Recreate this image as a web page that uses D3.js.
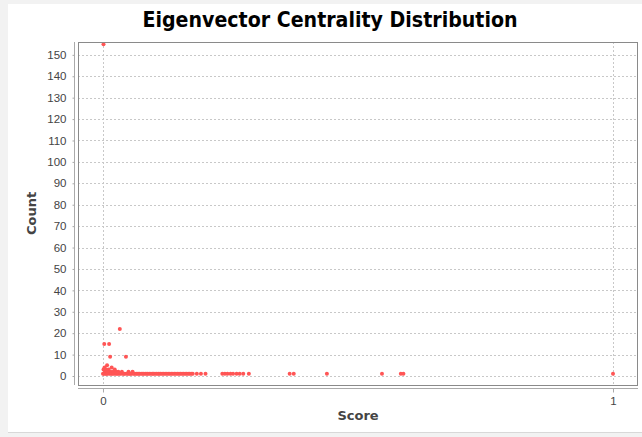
<!doctype html>
<html lang="en">
<head>
<meta charset="UTF-8" />
<title>Eigenvector Centrality Distribution</title>
<script src="https://d3js.org/d3.v7.min.js"></script>
<style>
  html,body{margin:0;padding:0;background:#f2f2f2;}
  svg{display:block;font-family:"DejaVu Sans",Verdana,sans-serif;}
</style>
</head>
<body>
<div id="chart"></div>
<script>
/* ---- data: score -> number of nodes with that score ---- */
const scores = [
  0.001, 0.0025, 0.012, 0.014, 0.045, 0.033,
  0.008, 0.003, 0.017,
  0.001, 0.006, 0.011, 0.023,
  0.004, 0.010, 0.015, 0.020, 0.026, 0.030, 0.037, 0.050, 0.058,
  0.000, 0.002, 0.005, 0.007, 0.009, 0.013, 0.016, 0.018, 0.021, 0.024,
  0.027, 0.029, 0.032, 0.035, 0.039, 0.041, 0.043, 0.047, 0.049, 0.052,
  0.054, 0.056, 0.060, 0.062, 0.065, 0.067, 0.070, 0.072, 0.075, 0.078,
  0.080, 0.083, 0.086, 0.088, 0.091, 0.094, 0.097, 0.099, 0.102, 0.105,
  0.108, 0.110, 0.113, 0.116, 0.119, 0.122, 0.125, 0.128, 0.131, 0.134,
  0.137, 0.140, 0.143, 0.146, 0.149, 0.152, 0.155, 0.158, 0.161, 0.164,
  0.167, 0.170, 0.173, 0.176,
  0.184, 0.192, 0.201,
  0.234, 0.239, 0.244, 0.250, 0.255, 0.262, 0.268, 0.275,
  0.286, 0.366, 0.374, 0.439, 0.547, 0.584, 0.589, 1.000
];
const counts = [
  155, 15, 15, 9, 9, 22,
  5, 4, 4,
  3, 3, 3, 3,
  2, 2, 2, 2, 2, 2, 2, 2, 2,
  1, 1, 1, 1, 1, 1, 1, 1, 1, 1,
  1, 1, 1, 1, 1, 1, 1, 1, 1, 1,
  1, 1, 1, 1, 1, 1, 1, 1, 1, 1,
  1, 1, 1, 1, 1, 1, 1, 1, 1, 1,
  1, 1, 1, 1, 1, 1, 1, 1, 1, 1,
  1, 1, 1, 1, 1, 1, 1, 1, 1, 1,
  1, 1, 1, 1,
  1, 1, 1,
  1, 1, 1, 1, 1, 1, 1, 1,
  1, 1, 1, 1, 1, 1, 1, 1
];
const xTicks = [0, 1];
const yTicks = [0,10,20,30,40,50,60,70,80,90,100,110,120,130,140,150];

const W = 642, H = 437;
const plot = {left:78, right:638, top:42, bottom:385};

const svg = d3.select('#chart').append('svg').attr('width',W).attr('height',H);

// white panel with light frame
svg.append('rect').attr('x',8).attr('y',4).attr('width',W-8).attr('height',428)
   .attr('fill','#fff');
svg.append('line').attr('x1',8).attr('x2',W).attr('y1',432.5).attr('y2',432.5)
   .attr('stroke','#d8d8d8');

const x = d3.scaleLinear().domain([-0.049,1.049]).range([plot.left,plot.right]);
const y = d3.scaleLinear().domain([-4.2,156]).range([plot.bottom,plot.top]);

// grid
const grid = svg.append('g').attr('stroke','#c8c8c8').attr('stroke-dasharray','2,2');
grid.selectAll('.gy').data(yTicks).join('line')
  .attr('x1',plot.left).attr('x2',plot.right)
  .attr('y1',d=>Math.round(y(d))+0.5).attr('y2',d=>Math.round(y(d))+0.5);
grid.selectAll('.gx').data(xTicks).join('line')
  .attr('y1',plot.top).attr('y2',plot.bottom)
  .attr('x1',d=>Math.round(x(d))+0.5).attr('x2',d=>Math.round(x(d))+0.5);

// points
svg.append('g').selectAll('circle').data(scores).join('circle')
  .attr('cx',d=>x(d)).attr('cy',(d,i)=>y(counts[i]))
  .attr('r',2).attr('fill','#ff5555');

// plot frame
svg.append('rect').attr('x',plot.left+0.5).attr('y',plot.top+0.5)
   .attr('width',plot.right-plot.left-1).attr('height',plot.bottom-plot.top)
   .attr('fill','none').attr('stroke','#8a8a8a');

// axes
function styleAxis(g){
  g.select('.domain').attr('stroke','#aaa');
  g.selectAll('.tick line').attr('stroke','#aaa');
  g.selectAll('.tick text').attr('fill','#444').style('font-size','11.5px');
}
const yAxis = svg.append('g').attr('transform','translate(74.5,0)')
  .call(d3.axisLeft(y).tickValues(yTicks).tickSize(2).tickSizeOuter(0).tickPadding(6));
yAxis.select('.domain').attr('d',`M0,${plot.top}V${plot.bottom}`);
styleAxis(yAxis);

const xAxis = svg.append('g').attr('transform','translate(0,388.5)')
  .call(d3.axisBottom(x).tickValues(xTicks).tickFormat(d3.format('d')).tickSize(4).tickSizeOuter(0).tickPadding(4));
xAxis.select('.domain').attr('d',`M${plot.left},0H${plot.right}`);
styleAxis(xAxis);

// title and axis labels
svg.append('text').attr('x',(plot.left+plot.right)/2 - 28).attr('y',27)
   .attr('text-anchor','middle').attr('font-weight','bold').attr('font-size','21px')
   .attr('font-family','"DejaVu Sans Condensed","DejaVu Sans",sans-serif')
   .attr('textLength',375).attr('lengthAdjust','spacingAndGlyphs')
   .attr('fill','#000').text('Eigenvector Centrality Distribution');

svg.append('text').attr('x',(plot.left+plot.right)/2).attr('y',420)
   .attr('text-anchor','middle').attr('font-weight','bold').attr('font-size','13px')
   .attr('fill','#444').text('Score');

svg.append('text').attr('transform',`translate(36,${(plot.top+plot.bottom)/2}) rotate(-90)`)
   .attr('text-anchor','middle').attr('font-weight','bold').attr('font-size','13px')
   .attr('fill','#444').text('Count');
</script>
</body>
</html>
